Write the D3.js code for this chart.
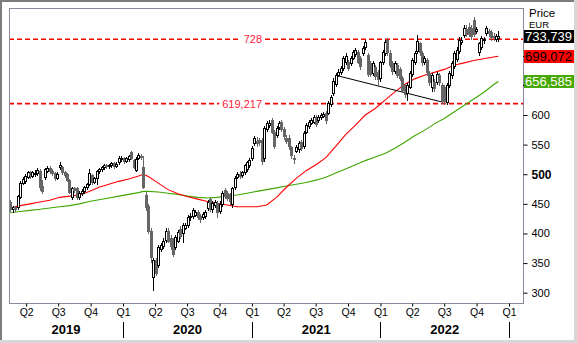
<!DOCTYPE html>
<html><head><meta charset="utf-8">
<script src="https://cdn.jsdelivr.net/npm/d3@7"></script>
<style>
body{margin:0;background:#fff}
svg{display:block}
text{font-family:"Liberation Sans",Arial,sans-serif}
</style>
</head><body>
<svg id="c" width="577" height="343"></svg>
<script>
// ---------- DATA ----------
const startDate = "2019-02-15"; // first weekly candle
const opens = [453,441,444,444,462,486,488,496,502,497,501,502,505,480,495,506,511,506,502,494,512,512,504,500,490,462,476,476,462,468,472,478,484,499,487,494,505,509,512,515,514,515,519,514,520,527,527,522,525,537,524,507,527,531,512,465,446,405,327,355,347,373,378,389,405,393,388,377,388,408,400,410,414,427,429,432,436,430,428,429,443,458,441,448,451,438,450,473,468,466,450,478,496,500,498,504,508,515,527,553,556,558,558,527,576,583,591,571,567,580,588,577,562,562,546,528,540,542,554,548,572,581,587,589,597,591,596,599,603,604,618,637,652,668,672,679,690,689,688,697,703,706,697,705,715,701,688,671,681,673,662,689,705,726,705,687,674,684,678,662,650,637,648,670,690,708,721,705,689,693,671,648,656,656,668,651,648,622,651,668,683,695,708,724,735,745,748,747,760,742,706,715,726,738,742,740,733,728,730];
const highs = [456,447,447,465,489,496,500,506,505,506,507,510,508,490,511,514,514,508,504,503,521,514,506,502,492,479,479,478,471,475,480,486,508,501,496,507,511,514,518,517,518,521,520,520,530,531,529,529,533,539,526,529,536,534,530,470,450,410,358,358,380,384,392,409,410,397,392,397,406,412,418,418,431,434,443,440,439,433,437,439,456,462,454,456,454,454,471,476,472,469,479,497,504,506,506,518,523,527,547,565,563,562,561,581,590,592,595,574,581,590,592,580,566,566,548,532,550,556,557,573,586,591,595,600,600,600,603,605,606,623,633,662,671,677,682,699,704,693,700,709,713,710,700,717,727,705,692,691,684,676,692,709,726,730,709,691,691,687,681,665,653,654,674,696,708,735,724,708,699,696,674,671,660,673,671,654,651,654,674,691,708,714,731,731,752,752,755,752,765,749,724,734,732,751,745,744,738,737,742];
const lows = [438,437,438,442,460,483,485,493,494,495,497,498,473,468,492,503,502,499,490,492,509,501,495,488,468,458,470,459,458,465,469,475,482,484,485,484,502,506,509,510,511,512,511,512,518,523,519,520,523,526,510,505,525,526,476,440,400,352,305,330,343,370,375,386,385,374,362,374,385,392,385,407,411,423,426,429,424,420,425,426,440,438,437,445,427,435,447,460,457,450,444,475,493,493,496,501,505,512,524,550,548,550,518,522,573,579,569,544,563,577,573,560,552,543,528,519,537,538,541,545,569,578,584,586,581,588,593,596,586,601,615,634,649,665,669,676,686,676,685,694,700,687,678,702,712,665,665,668,661,651,658,686,702,702,681,670,671,664,659,639,631,625,645,666,686,704,702,685,686,668,651,640,640,652,651,620,619,619,648,662,680,692,705,720,732,733,733,729,733,738,702,712,722,735,734,727,727,725,725];
const closes = [441,444,442,463,486,492,497,503,498,503,502,507,478,472,508,511,506,502,494,500,516,504,498,491,470,477,474,462,468,472,478,483,502,487,494,505,509,512,515,514,515,519,514,518,528,527,522,527,531,528,513,526,532,530,478,445,405,360,355,334,377,380,388,405,388,378,365,394,402,395,414,415,428,430,440,436,427,424,433,436,453,442,451,453,436,450,468,463,460,454,476,494,501,497,503,515,520,524,544,561,552,555,522,578,586,587,572,547,578,586,576,564,556,547,533,526,546,553,545,570,583,588,592,597,584,597,600,602,592,620,630,658,668,673,679,696,700,680,697,706,709,690,682,713,723,669,670,688,665,660,689,706,723,706,685,674,688,668,663,643,635,650,671,693,705,725,706,689,696,672,655,668,645,670,655,623,623,651,671,688,705,710,727,727,747,737,737,733,736,745,721,730,728,747,738,731,731,733,733.739];

// moving averages (week index -> value)
const maWeeks = [0,4,8,12,16,20,24,28,32,36,40,44,48,52,54,56,60,64,68,72,76,80,84,88,92,96,100,104,108,112,116,120,124,128,132,136,140,144,148,152,156,160,164,168,172,176,180,184,188,192,196,198];
const maRed = [443,447,450,453,456,461,463,465,471,478,483,488,492,497,500,496,485,474,467,462,458,454,451,448,445,445,445,448,461,478,493,506,516,528,547,567,583,600,611,625,639,652,661,667,672,677,684,688,692,695,698,699.072];
const maGreen = [435,437,439,441,443,445,447,450,454,457,460,463,466,469,471,471,470,468,466,463,461,460,461,463,465,468,471,474,477,480,483,486,490,495,502,509,516,523,529,535,544,554,565,574,585,594,605,616,627,638,651,656.585];

const trendWeeks = [133, 175];
const trendValues = [666, 622];

const levelValues = [728, 619.217];
const levelLabels = ["728", "619,217"];

const quarterDates = ["2019-04-01","2019-07-01","2019-10-01","2020-01-01","2020-04-01","2020-07-01","2020-10-01","2021-01-01","2021-04-01","2021-07-01","2021-10-01","2022-01-01","2022-04-01","2022-07-01","2022-10-01","2023-01-01"];
const quarterLabels = ["Q2","Q3","Q4","Q1","Q2","Q3","Q4","Q1","Q2","Q3","Q4","Q1","Q2","Q3","Q4","Q1"];
const yearLabels = ["2019","2020","2021","2022"];
const yearStarts = ["2019-01-01","2020-01-01","2021-01-01","2022-01-01","2023-01-01"];
const priceTicks = [300,350,400,450,500,550,600];
const hiddenTicks = [650,700];

const lastValues = [733.739, 699.072, 656.585];
const lastLabels = ["733,739", "699,072", "656,585"];
const lastFills = ["#000000", "#ff0000", "#47a800"];
const lastTextColors = ["#ffffff", "#000000", "#ffffff"];

// ---------- LAYOUT ----------
const plot = {l: 9, t: 8, r: 523, b: 303};
const svg = d3.select("#c");
const parse = d3.utcParse("%Y-%m-%d");
const x = d3.scaleUtc().domain([parse("2020-01-01"), parse("2023-01-01")]).range([123, 509]);
const y = d3.scaleLinear().domain([300, 600]).range([292.7, 115]);
const t0 = parse(startDate);
const wDate = i => d3.utcDay.offset(t0, 7 * i);

// window border
svg.append("rect").attr("x",0).attr("y",0).attr("width",577).attr("height",343).attr("fill","#fff");
svg.append("rect").attr("x",0).attr("y",0).attr("width",577).attr("height",2).attr("fill","#7c7c7c");
svg.append("rect").attr("x",0).attr("y",0).attr("width",2).attr("height",343).attr("fill","#7c7c7c");
svg.append("rect").attr("x",0).attr("y",340).attr("width",577).attr("height",3).attr("fill","#d8d8d8");
svg.append("rect").attr("x",574).attr("y",0).attr("width",3).attr("height",343).attr("fill","#d8d8d8");

svg.append("defs").append("clipPath").attr("id","pc")
  .append("rect").attr("x",plot.l).attr("y",plot.t).attr("width",plot.r-plot.l).attr("height",plot.b-plot.t);

const g = svg.append("g").attr("clip-path","url(#pc)");

// level lines
levelValues.forEach((v, k) => {
  const yy = y(v);
  g.append("line").attr("x1",plot.l).attr("x2",plot.r).attr("y1",yy).attr("y2",yy)
    .attr("stroke","#ff0000").attr("stroke-width",1.6).attr("stroke-dasharray","5,3");
});

// moving averages
const line = d3.line().x(d => x(wDate(d[0]))).y(d => y(d[1]));
g.append("path").datum(maWeeks.map((w,i)=>[w,maGreen[i]])).attr("d",line)
  .attr("fill","none").attr("stroke","#3ea600").attr("stroke-width",1.1);
g.append("path").datum(maWeeks.map((w,i)=>[w,maRed[i]])).attr("d",line)
  .attr("fill","none").attr("stroke","#ff0000").attr("stroke-width",1.1);

// trend line
g.append("line")
  .attr("x1",x(wDate(trendWeeks[0]))).attr("y1",y(trendValues[0]))
  .attr("x2",x(wDate(trendWeeks[1]))).attr("y2",y(trendValues[1]))
  .attr("stroke","#000").attr("stroke-width",1);

// candles
const candles = g.append("g").attr("shape-rendering","crispEdges");
closes.forEach((c, i) => {
  const o = opens[i], h = highs[i], l = lows[i];
  const cx = Math.round(x(wDate(i)));
  const up = c >= o;
  const col = up ? "#000" : "#666";
  candles.append("line").attr("x1",cx+0.5).attr("x2",cx+0.5)
    .attr("y1",Math.round(y(h))).attr("y2",Math.round(y(l))+1)
    .attr("stroke",col).attr("stroke-width",1);
  const top = Math.round(y(Math.max(o,c))), bot = Math.round(y(Math.min(o,c)));
  candles.append("rect").attr("x",cx-0.5).attr("y",top+0.5)
    .attr("width",2).attr("height",Math.max(bot-top,1))
    .attr("fill", up ? "#fff" : "#666").attr("stroke",col).attr("stroke-width",1);
});

// level labels
levelValues.forEach((v, k) => {
  const yy = y(v);
  const t = svg.append("text").attr("x",262).attr("y",yy).attr("dy","0.36em")
    .attr("text-anchor","end").attr("font-size",11).attr("fill","#ff1a3c").text(levelLabels[k]);
  const bb = t.node().getBBox();
  svg.insert("rect", () => t.node()).attr("x",bb.x-3).attr("y",bb.y).attr("width",bb.width+6).attr("height",bb.height)
    .attr("fill","#fff");
});

// frame
svg.append("rect").attr("x",plot.l+0.5).attr("y",plot.t+0.5).attr("width",plot.r-plot.l).attr("height",plot.b-plot.t)
  .attr("fill","none").attr("stroke","#8a8a9a").attr("stroke-width",1);

// bottom axis
const qDates = quarterDates.map(parse);
const xAxis = d3.axisBottom(x).tickValues(qDates).tickSize(3).tickPadding(2)
  .tickFormat((d,i) => quarterLabels[i]);
const gx = svg.append("g").attr("transform",`translate(0,${plot.b+0.5})`).call(xAxis);
gx.select(".domain").remove();
gx.selectAll(".tick line").attr("stroke","#000");
gx.selectAll(".tick text").attr("font-size",10.5).attr("fill","#000")
  .attr("font-family","'Liberation Sans',Arial,sans-serif");

// year separators + labels
const yStarts = yearStarts.map(parse);
yStarts.slice(1).forEach(d => {
  const xx = Math.round(x(d)) + 0.5;
  svg.append("line").attr("x1",xx).attr("x2",xx).attr("y1",322).attr("y2",338)
    .attr("stroke","#000").attr("stroke-width",1);
});
yearLabels.forEach((lab, i) => {
  const a = Math.max(x(yStarts[i]), plot.l), b = x(yStarts[i+1]);
  svg.append("text").attr("x",(a+b)/2).attr("y",334).attr("text-anchor","middle")
    .attr("font-size",13).attr("font-weight","bold").attr("fill","#000").text(lab);
});

// right axis
const yAxis = d3.axisRight(y).tickValues(priceTicks).tickSize(4).tickPadding(4).tickFormat(d3.format("d"));
const gy = svg.append("g").attr("transform",`translate(${plot.r+0.5},0)`).call(yAxis);
gy.select(".domain").remove();
gy.selectAll(".tick line").attr("stroke","#000");
gy.selectAll(".tick text").attr("font-size",d => d === 500 ? 12 : 11).attr("font-weight",d => d === 500 ? "bold" : "normal")
  .attr("fill","#000").attr("font-family","'Liberation Sans',Arial,sans-serif");
// tick marks for levels hidden behind the value boxes
hiddenTicks.forEach(v => {
  const yy = Math.round(y(v)) + 0.5;
  svg.append("line").attr("x1",plot.r).attr("x2",plot.r+4).attr("y1",yy).attr("y2",yy).attr("stroke","#000");
});

svg.append("text").attr("x",529).attr("y",16.5).attr("font-size",11.5).attr("fill","#000").text("Price");
svg.append("text").attr("x",529).attr("y",27.5).attr("font-size",9.5).attr("fill","#000").text("EUR");

// last value boxes
lastValues.forEach((v, k) => {
  const yy = Math.round(y(v));
  svg.append("rect").attr("x",524).attr("y",yy-6).attr("width",50).attr("height",13).attr("fill",lastFills[k]);
  svg.append("text").attr("x",525).attr("y",yy).attr("dy","0.37em").attr("font-size",13)
    .attr("fill",lastTextColors[k]).text(lastLabels[k]);
});
</script>
</body></html>
